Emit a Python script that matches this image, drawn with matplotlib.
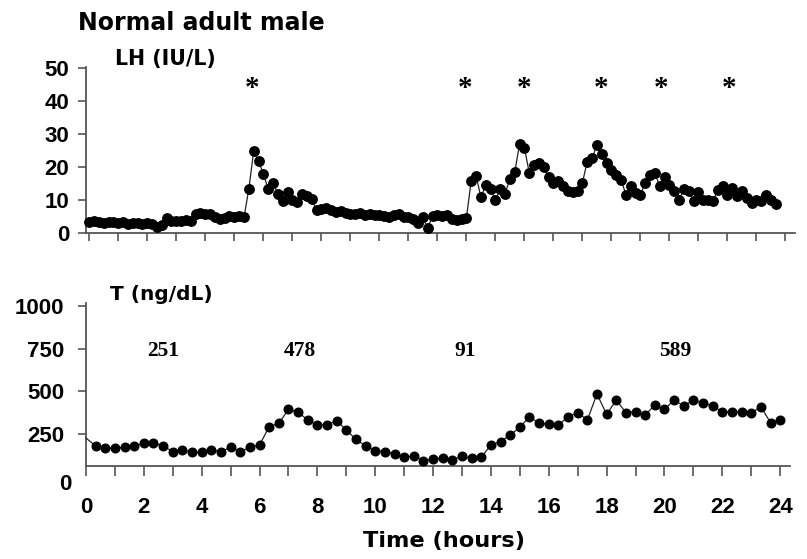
import numpy as np
import matplotlib
matplotlib.use("Agg")
import matplotlib.pyplot as plt

plt.rcParams['font.family'] = ['Liberation Sans', 'DejaVu Sans']
plt.rcParams['font.weight'] = 'bold'

# ---------------- data ----------------
# LH (IU/L), sampled every 10 minutes from hour 0
lh_interval_min = 10
lh_values = [
    3.5, 3.8, 3.5, 3.2, 3.5, 3.3,
    3.0, 3.3, 2.8, 3.2, 3.0, 2.9,
    3.0, 2.8, 2.0, 2.5, 4.5, 3.8,
    3.8, 3.6, 4.0, 3.8, 6.0, 6.3,
    6.0, 5.8, 5.0, 4.2, 4.5, 5.2,
    5.0, 5.2, 4.8, 13.5, 24.8, 22.0,
    18.0, 13.5, 15.3, 12.0, 9.8, 12.5,
    10.0, 9.5, 11.8, 11.2, 10.5, 7.0,
    7.5, 7.8, 7.0, 6.5, 6.8, 6.2,
    6.0, 5.8, 6.2, 5.5, 5.8, 5.5,
    5.6, 5.2, 5.0, 5.4, 5.8, 5.0,
    4.8, 4.2, 3.2, 4.8, 1.5, 5.3,
    5.5, 5.3, 5.6, 4.2, 4.0, 4.3,
    4.5, 16.0, 17.5, 11.0, 14.5, 13.5,
    10.0, 13.5, 12.0, 16.5, 18.5, 27.0,
    26.0, 18.4, 20.7, 21.2, 20.2, 17.2,
    15.3, 16.0, 14.4, 12.9, 12.4, 12.9,
    15.3, 21.7, 22.7, 26.8, 24.1, 21.3,
    19.3, 17.8, 16.3, 11.7, 14.3, 12.3,
    11.7, 15.2, 17.7, 18.2, 14.3, 17.2,
    14.7, 12.7, 10.2, 13.3, 12.7, 9.7,
    12.4, 10.2, 10.2, 9.7, 13.0, 14.3,
    11.7, 13.8, 11.2, 12.7, 10.7, 9.2,
    10.2, 9.7, 11.7, 10.2, 9.0,
]

# T (ng/dL), sampled every 20 minutes from hour 0
t_interval_min = 20
t_values = [
    225,
    178, 165, 165, 170, 178, 194, 197, 178, 145, 155, 141, 141,
    155, 145, 170, 145, 170, 184, 291, 311, 393, 376, 331, 301,
    301, 327, 272, 217, 178, 151, 145, 131,
    112, 119, 92, 100, 106, 96, 119, 106, 112, 184, 204, 243,
    288, 350, 311, 307, 301, 350, 374, 331, 484, 364, 448, 374,
    380, 360, 419, 393, 448, 413, 448, 432, 413, 380, 380, 380,
    370, 409, 315, 331,
]

pulse_hours = [5.6, 12.96, 14.99, 17.64, 19.7, 22.06]
mean_labels = ["251", "478", "91", "589"]
mean_label_hours = [2.68, 7.4, 13.1, 20.38]
lh_yticks = [0, 10, 20, 30, 40, 50]
t_yticks = [250, 500, 750, 1000]
hour_ticks = list(range(0, 25))
hour_labels_ticks = list(range(0, 25, 2))

lh_time = np.arange(len(lh_values)) * lh_interval_min / 60.0
t_time = np.arange(len(t_values)) * t_interval_min / 60.0

# ---------------- figure ----------------
W, H = 807, 559
fig = plt.figure(figsize=(W / 100, H / 100), dpi=100)

def fx(px):
    return px / W

def fy(py):
    return 1 - py / H

ax1 = fig.add_axes([fx(86), fy(233.3), (795 - 86) / W, (233.3 - 66.7) / H])
ax2 = fig.add_axes([fx(86), fy(466), (790 - 86) / W, (466 - 302.7) / H])

spine_col = '#555555'
for ax in (ax1, ax2):
    for s in ('top', 'right'):
        ax.spines[s].set_visible(False)
    for s in ('left', 'bottom'):
        ax.spines[s].set_color(spine_col)
        ax.spines[s].set_linewidth(1.3)

# LH panel
ax1.plot(lh_time, lh_values, '-', color='#222222', lw=0.9, marker='o', ms=6.8,
         mfc='black', mec='black', clip_on=False, zorder=3)
ax1.set_xlim(-0.114, 24.33)
ax1.set_ylim(0, 50.5)
ax1.set_xticks(hour_ticks)
ax1.set_yticks(lh_yticks)
ax1.tick_params(axis='x', direction='out', length=6, width=1.2, color=spine_col,
                labelbottom=False)
ax1.tick_params(axis='y', direction='out', length=6, width=1.2, color=spine_col,
                labelsize=16, pad=6)

for h in pulse_hours:
    ax1.text(h, 41.5, "*", ha='center', va='baseline', family='Liberation Serif',
             weight='bold', size=21, clip_on=False)

# T panel
ax2.plot(t_time, t_values, '-', color='#222222', lw=0.9, marker='o', ms=6.2,
         mfc='black', mec='black', markevery=list(range(1, len(t_values))),
         clip_on=False, zorder=3)
ax2.set_xlim(0, 24.34)
ax2.set_ylim(60.5, 1020)
ax2.set_xticks(hour_labels_ticks)
ax2.set_xticks(hour_ticks, minor=True)
ax2.set_yticks(t_yticks)
ax2.tick_params(axis='x', which='both', direction='out', length=7, width=1.2,
                color=spine_col)
ax2.tick_params(axis='x', which='major', labelsize=16, pad=15.5)
ax2.tick_params(axis='y', direction='out', length=6, width=1.2, color=spine_col,
                labelsize=16, pad=9.5)

for lbl, h in zip(mean_labels, mean_label_hours):
    ax2.text(h, 750, lbl, ha='center', va='center_baseline', family='Liberation Serif',
             weight='bold', size=15.5)

# texts
fig.text(fx(78), fy(30.5), "Normal adult male", family='DejaVu Sans', weight='bold',
         size=17, ha='left', va='baseline')
fig.text(fx(115), fy(65), "LH (IU/L)", family='DejaVu Sans', weight='bold',
         size=14.8, ha='left', va='baseline')
fig.text(fx(110), fy(300), "T (ng/dL)", family='DejaVu Sans', weight='bold',
         size=14.5, ha='left', va='baseline')
fig.text(fx(444), fy(547), "Time (hours)", family='DejaVu Sans', weight='bold',
         size=16.2, ha='center', va='baseline')
fig.text(fx(72), fy(490), "0", ha='right', va='baseline', size=16, weight='bold')

fig.savefig("out.png", dpi=100)
